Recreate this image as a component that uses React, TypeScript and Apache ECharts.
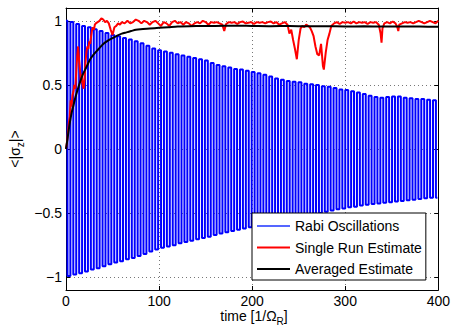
import React, { useEffect, useRef } from "react";
import * as echarts from "echarts";

// ---- data ----
const xTicks = [0, 100, 200, 300, 400];
const yTicks = [-1, -0.5, 0, 0.5, 1];
const seriesNames = ["Rabi Oscillations", "Single Run Estimate", "Averaged Estimate"];

// Rabi oscillation: one upper peak per period (t = 2πk) and one lower peak (t = 2πk + π)
const RABI_PERIOD = 2 * Math.PI;
const rabiTop = [
  1.0, 0.99, 0.975, 0.96, 0.95, 0.935, 0.92, 0.905, 0.89, 0.88, 0.865, 0.855, 0.84, 0.825, 0.805, 0.785,
  0.77, 0.76, 0.75, 0.74, 0.73, 0.72, 0.71, 0.7, 0.69, 0.67, 0.655, 0.645, 0.635, 0.625, 0.62, 0.61,
  0.6, 0.59, 0.58, 0.565, 0.55, 0.54, 0.53, 0.525, 0.52, 0.51, 0.505, 0.5, 0.49, 0.485, 0.475, 0.465,
  0.46, 0.45, 0.44, 0.43, 0.415, 0.405, 0.4, 0.405, 0.41, 0.41, 0.4, 0.395, 0.39, 0.39, 0.385, 0.38,
];
const rabiBottom = [
  -0.99, -0.98, -0.97, -0.955, -0.94, -0.93, -0.915, -0.9, -0.885, -0.875, -0.86, -0.85, -0.835, -0.82, -0.8, -0.785,
  -0.77, -0.76, -0.75, -0.735, -0.725, -0.715, -0.705, -0.695, -0.685, -0.67, -0.66, -0.65, -0.64, -0.63, -0.62, -0.61,
  -0.6, -0.59, -0.58, -0.57, -0.555, -0.545, -0.535, -0.53, -0.52, -0.51, -0.505, -0.5, -0.49, -0.48, -0.47, -0.465,
  -0.455, -0.45, -0.44, -0.435, -0.43, -0.425, -0.42, -0.415, -0.41, -0.405, -0.4, -0.395, -0.39, -0.385, -0.38, -0.38,
];

const singleRun: [number, number][] = [
  [0, 0], [1, 0.05], [2, 0.12], [3, 0.2], [4, 0.25], [5, 0.38], [6, 0.33], [7, 0.42], [8, 0.45], [9, 0.5],
  [10, 0.47], [11, 0.6], [12, 0.72], [13, 0.8], [14, 0.7], [15, 0.62], [16, 0.52], [17, 0.58], [18, 0.5], [19, 0.47],
  [20, 0.55], [21, 0.68], [22, 0.76], [23, 0.8], [24, 0.78], [25, 0.84], [26, 0.82], [27, 0.88], [28, 0.93], [29, 0.95],
  [30, 0.93], [31, 0.97], [32, 0.98], [34, 0.99], [36, 1.0], [38, 1.02], [40, 1.01], [42, 0.99], [44, 1.0], [46, 0.98],
  [48, 0.93], [50, 0.89], [52, 0.95], [54, 0.96], [56, 0.98], [58, 0.97], [60, 0.99], [63, 0.98], [66, 1.0], [69, 0.98],
  [72, 0.99], [75, 1.01], [78, 1.0], [81, 0.98], [84, 1.0], [87, 0.99], [90, 0.97], [93, 0.99], [96, 1.0], [99, 0.98],
  [102, 0.96], [105, 0.99], [108, 0.98], [111, 0.96], [114, 0.99], [117, 1.0], [120, 0.98], [123, 0.99], [126, 0.97], [129, 0.99],
  [132, 0.98], [135, 0.96], [138, 0.98], [141, 0.99], [144, 0.98], [147, 1.0], [150, 0.99], [153, 0.97], [156, 0.99], [159, 0.985],
  [162, 0.99], [165, 0.98], [168, 0.97], [170, 0.92], [172, 0.975], [175, 0.99], [178, 0.985], [181, 0.99], [184, 0.975], [187, 0.99],
  [190, 0.995], [193, 0.98], [196, 0.985], [199, 0.99], [202, 0.975], [205, 0.99], [208, 0.985], [211, 0.99], [214, 0.98], [217, 0.99],
  [220, 0.995], [223, 0.98], [226, 0.99], [229, 0.97], [232, 0.98], [235, 0.99], [238, 0.97], [240, 0.9], [242, 0.93], [244, 0.85],
  [246, 0.78], [248, 0.7], [250, 0.85], [252, 0.94], [254, 0.96], [256, 0.95], [258, 0.97], [260, 0.96], [262, 0.95], [264, 0.92],
  [266, 0.88], [268, 0.8], [270, 0.74], [272, 0.73], [274, 0.82], [276, 0.65], [277, 0.62], [279, 0.75], [281, 0.85], [283, 0.9],
  [285, 0.96], [288, 0.98], [291, 0.99], [294, 0.975], [297, 0.99], [300, 0.985], [303, 0.99], [306, 0.98], [309, 0.995], [312, 0.98],
  [315, 0.99], [318, 0.985], [321, 0.99], [324, 0.975], [327, 0.99], [330, 0.985], [333, 0.99], [336, 0.97], [338, 0.9], [339, 0.83],
  [340, 0.94], [342, 0.98], [345, 0.99], [348, 0.98], [351, 0.995], [354, 0.98], [356, 0.95], [357, 0.92], [358, 0.97], [361, 0.98],
  [364, 0.99], [367, 0.985], [370, 0.99], [373, 0.98], [376, 0.99], [379, 1.0], [382, 0.99], [385, 0.98], [388, 0.99], [391, 1.0],
  [394, 0.99], [397, 0.98], [400, 1.0],
];

const averaged: [number, number][] = [
  [0, 0], [1, 0.05], [2, 0.1], [4, 0.2], [6, 0.28], [8, 0.34], [10, 0.4], [12, 0.45], [15, 0.52], [18, 0.58],
  [22, 0.64], [26, 0.7], [30, 0.74], [35, 0.78], [40, 0.82], [45, 0.845], [50, 0.865], [55, 0.885], [60, 0.9], [65, 0.91],
  [70, 0.92], [75, 0.93], [80, 0.935], [90, 0.94], [100, 0.945], [110, 0.95], [120, 0.955], [140, 0.96], [160, 0.96], [180, 0.962],
  [200, 0.96], [220, 0.958], [240, 0.96], [260, 0.957], [280, 0.958], [300, 0.956], [320, 0.957], [340, 0.955], [360, 0.956], [380, 0.955],
  [400, 0.954],
];

const FONT = "'Liberation Sans', Arial, Helvetica, sans-serif";
const LEGEND_ICON = "path://M0,0 L33,0 L33,2 L0,2 Z";

function fmt(v: number): string {
  return v < 0 ? "\u2212" + String(Math.abs(v)) : String(v);
}

export default function App() {
  const ref = useRef<HTMLDivElement>(null);
  useEffect(() => {
    if (!ref.current) return;
    const chart = echarts.init(ref.current, null, { renderer: "svg" });

    const rabi: [number, number][] = [];
    rabiTop.forEach((v, k) => {
      rabi.push([k * RABI_PERIOD, v]);
      if (k < rabiBottom.length) rabi.push([k * RABI_PERIOD + RABI_PERIOD / 2, rabiBottom[k]]);
    });

    const grid = { left: 66, top: 8, width: 376, height: 282 };
    const axisLine = { show: true, onZero: false, lineStyle: { color: "#000", width: 1 } };
    const tick = { show: true, inside: true, length: 4, lineStyle: { color: "#000" } };
    const dotted = { show: true, lineStyle: { color: "#777", type: [1, 3] as any, width: 1 } };

    chart.setOption({
      animation: false,
      backgroundColor: "#fff",
      grid: { ...grid, containLabel: false },
      xAxis: [
        {
          type: "value", min: xTicks[0], max: xTicks[xTicks.length - 1], interval: 100, position: "bottom",
          axisLine, axisTick: tick, splitLine: dotted,
          axisLabel: { color: "#000", fontSize: 14, lineHeight: 14, fontFamily: FONT, margin: 4 },
        },
        {
          type: "value", min: xTicks[0], max: xTicks[xTicks.length - 1], interval: 100, position: "top",
          axisLine, axisTick: tick, splitLine: { show: false }, axisLabel: { show: false },
        },
      ],
      yAxis: [
        {
          type: "value", min: -1.1, max: 1.1, position: "left",
          axisLine, axisTick: { ...tick, customValues: yTicks }, splitLine: dotted,
          axisLabel: { customValues: yTicks, formatter: fmt, color: "#000", fontSize: 14, fontFamily: FONT, margin: 4 },
        },
        {
          type: "value", min: -1.1, max: 1.1, position: "right",
          axisLine, axisTick: { ...tick, customValues: yTicks }, splitLine: { show: false },
          axisLabel: { show: false, customValues: yTicks },
        },
      ],
      legend: {
        orient: "vertical", left: 252, top: 213,
        backgroundColor: "#fff", borderColor: "#000", borderWidth: 1, borderRadius: 0,
        padding: [5, 4, 3, 5], itemWidth: 33, itemHeight: 2, itemGap: 5.5,
        textStyle: { color: "#000", fontSize: 14, lineHeight: 16, fontFamily: FONT },
        data: [
          { name: seriesNames[0], icon: LEGEND_ICON, itemStyle: { color: "#5566ff" } },
          { name: seriesNames[1], icon: LEGEND_ICON, itemStyle: { color: "#ff0000" } },
          { name: seriesNames[2], icon: LEGEND_ICON, itemStyle: { color: "#000000" } },
        ],
      },
      series: [
        {
          name: seriesNames[0], type: "line", data: rabi, step: "middle", showSymbol: false, symbol: "none",
          lineStyle: { color: "#0000ff", width: 2 }, itemStyle: { color: "#0000ff" }, z: 1,
        },
        {
          name: seriesNames[1], type: "line", data: singleRun, showSymbol: false, symbol: "none",
          lineStyle: { color: "#ff0000", width: 2 }, itemStyle: { color: "#ff0000" }, z: 2,
        },
        {
          name: seriesNames[2], type: "line", data: averaged, showSymbol: false, symbol: "none", smooth: 0.3,
          lineStyle: { color: "#000000", width: 2 }, itemStyle: { color: "#000000" }, z: 3,
        },
      ],
      graphic: [
        {
          type: "text", x: 254, y: 316,
          style: {
            text: "{a|time [1/Ω}{s|R}{a|]}",
            align: "center", verticalAlign: "middle",
            rich: {
              a: { fontSize: 14, fontFamily: FONT, fill: "#000", verticalAlign: "top", lineHeight: 14 },
              s: { fontSize: 10, fontFamily: FONT, fill: "#000", verticalAlign: "top", padding: [7, 0, 0, 0], lineHeight: 10 },
            },
          },
        },
        {
          type: "text", x: 16, y: 149, rotation: Math.PI / 2,
          style: {
            text: "{a|<|σ}{s|z}{a||>}",
            align: "center", verticalAlign: "middle",
            rich: {
              a: { fontSize: 14, fontFamily: FONT, fill: "#000", verticalAlign: "top", lineHeight: 16 },
              s: { fontSize: 10, fontFamily: FONT, fill: "#000", verticalAlign: "top", padding: [7, 0, 0, 0], lineHeight: 12 },
            },
          },
        },
      ],
    });
    return () => chart.dispose();
  }, []);
  return (
    <div
      ref={ref}
      style={{ position: "fixed", left: 0, top: 0, width: 453, height: 327, background: "#fff" }}
    />
  );
}
